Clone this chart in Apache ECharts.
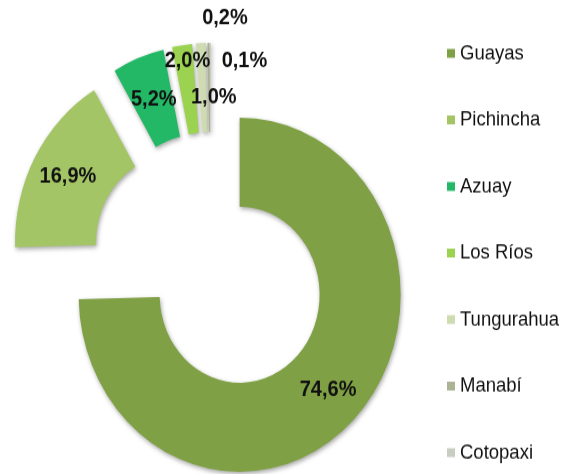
<!DOCTYPE html>
<html>
<head>
<meta charset="utf-8">
<script src="https://cdn.jsdelivr.net/npm/echarts@6/dist/echarts.min.js"></script>
<style>
  html, body { margin: 0; padding: 0; background: #fff; overflow: hidden; width: 579px; height: 474px; }
  /* the source picture is a stretched export, so draw at 431px high and stretch by 1.1 */
  #chart { width: 579px; height: 431px; transform: scaleY(1.1); transform-origin: 0 0; }
</style>
</head>
<body>
<div id="chart"></div>
<script>
const provinces = ['Guayas', 'Pichincha', 'Azuay', 'Los Ríos', 'Tungurahua', 'Manabí', 'Cotopaxi'];
const shares = [74.6, 16.9, 5.2, 2.0, 1.0, 0.2, 0.1];
const colors = ['#7fa044', '#a3c565', '#22b865', '#9bd250', '#cfdcb2', '#aab495', '#c9cdc0'];

// nudges for the labels of the thin slices, they sit above the ring in the source
const labelNudge = [[0, 0], [0, 0], [2, 3], [0, -23], [11, 12], [16, -60], [34, -21]];

const fmt = v => v.toFixed(1).replace('.', ',') + '%';

const chart = echarts.init(document.getElementById('chart'));

chart.setOption({
  backgroundColor: '#fff',
  animation: false,
  legend: {
    orient: 'vertical',
    left: 447,
    top: 39,
    padding: 0,
    itemWidth: 8,
    itemHeight: 8,
    itemGap: 41.5,
    icon: 'rect',
    selectedMode: false,
    textStyle: { fontFamily: 'Liberation Sans, Arial, sans-serif', fontSize: 18.5, color: '#111' },
    data: provinces,
  },
  series: [{
    type: 'pie',
    center: [211, 240],
    radius: [80, 161],
    startAngle: 90,
    clockwise: true,
    selectedMode: 'multiple',
    selectedOffset: 40,
    avoidLabelOverlap: false,
    emphasis: { disabled: true },
    itemStyle: {
      shadowBlur: 4,
      shadowColor: 'rgba(0,0,0,0.35)',
      shadowOffsetX: 1,
      shadowOffsetY: 2,
    },
    label: {
      show: true,
      position: 'inside',
      fontFamily: 'Liberation Sans, Arial, sans-serif',
      fontSize: 20,
      fontWeight: 'bold',
      color: '#111',
      formatter: p => fmt(p.value),
    },
    labelLine: { show: false },
    labelLayout: p => ({ dx: labelNudge[p.dataIndex][0], dy: labelNudge[p.dataIndex][1] }),
    data: provinces.map((name, i) => ({
      name,
      value: shares[i],
      selected: true,
      itemStyle: { color: colors[i] },
    })),
  }],
});
</script>
</body>
</html>
